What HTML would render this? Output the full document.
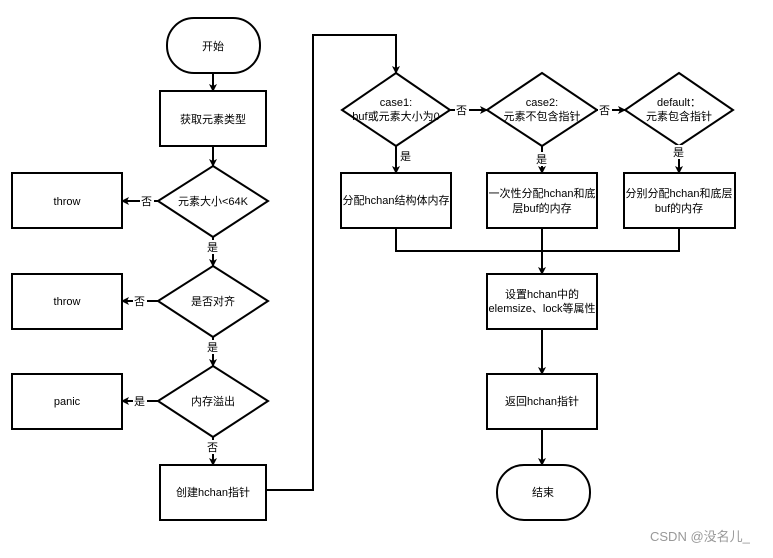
<!DOCTYPE html>
<html><head><meta charset="utf-8"><style>
html,body{margin:0;padding:0;background:#fff;}
svg text{font-family:"Liberation Sans","Noto Sans CJK SC",sans-serif;font-size:11px;fill:#000;}
</style></head><body>
<svg width="773" height="553" viewBox="0 0 773 553" xmlns="http://www.w3.org/2000/svg">
<defs><marker id="a" markerWidth="8" markerHeight="8" refX="7" refY="4" orient="auto" markerUnits="userSpaceOnUse"><path d="M0,0 L8,4 L0,8 L2,4 Z" fill="#000"/></marker></defs>
<g fill="#fff" stroke="#000" stroke-width="2">
<rect x="167" y="18" width="93" height="55" rx="27"/>
<rect x="160" y="91" width="106" height="55"/>
<polygon points="213,166 268,201 213,237 158,201"/>
<rect x="12" y="173" width="110" height="55"/>
<polygon points="213,266 268,301 213,337 158,301"/>
<rect x="12" y="274" width="110" height="55"/>
<polygon points="213,366 268,401 213,437 158,401"/>
<rect x="12" y="374" width="110" height="55"/>
<rect x="160" y="465" width="106" height="55"/>
<polygon points="396,73 450,110 396,146 342,110"/>
<polygon points="542,73 597,110 542,146 487,110"/>
<polygon points="679,73 733,110 679,146 625,110"/>
<rect x="341" y="173" width="110" height="55"/>
<rect x="487" y="173" width="110" height="55"/>
<rect x="624" y="173" width="111" height="55"/>
<rect x="487" y="274" width="110" height="55"/>
<rect x="487" y="374" width="110" height="55"/>
<rect x="497" y="465" width="93" height="55" rx="27"/>
</g>
<g fill="none" stroke="#000" stroke-width="2" marker-end="url(#a)">
<path d="M213,73 V91"/><path d="M213,146 V166"/>
<path d="M158,201 H122"/><path d="M213,237 V266"/>
<path d="M158,301 H122"/><path d="M213,337 V366"/>
<path d="M158,401 H122"/><path d="M213,437 V465"/>
<path d="M266,490 H313 V35 H396 V73"/>
<path d="M450,110 H487"/><path d="M597,110 H625"/>
<path d="M396,146 V173"/><path d="M542,146 V173"/><path d="M679,146 V173"/>
<path d="M542,228 V274"/><path d="M542,329 V374"/><path d="M542,429 V465"/>
</g>
<path d="M396,228 V251 H679 V228" fill="none" stroke="#000" stroke-width="2"/>
<g text-anchor="middle">
<text x="213" y="50">开始</text>
<text x="213" y="123">获取元素类型</text>
<text x="213" y="205">元素大小&lt;64K</text>
<text x="67" y="205">throw</text>
<text x="213" y="305">是否对齐</text>
<text x="67" y="305">throw</text>
<text x="213" y="405">内存溢出</text>
<text x="67" y="405">panic</text>
<text x="213" y="496">创建hchan指针</text>
<text x="396" y="106">case1:</text><text x="396" y="120">buf或元素大小为0</text>
<text x="542" y="106">case2:</text><text x="542" y="120">元素不包含指针</text>
<text x="679" y="106">default：</text><text x="679" y="120">元素包含指针</text>
<text x="396" y="204">分配hchan结构体内存</text>
<text x="542" y="197">一次性分配hchan和底</text><text x="542" y="212">层buf的内存</text>
<text x="679" y="197">分别分配hchan和底层</text><text x="679" y="212">buf的内存</text>
<text x="542" y="298">设置hchan中的</text><text x="542" y="312">elemsize、lock等属性</text>
<text x="542" y="405">返回hchan指针</text>
<text x="543" y="496">结束</text>
</g>
<g style="font-size:11px">
<rect x="140" y="194" width="14" height="14" fill="#fff"/><text x="141" y="205">否</text>
<rect x="206" y="240" width="14" height="14" fill="#fff"/><text x="207" y="251">是</text>
<rect x="133" y="294" width="14" height="14" fill="#fff"/><text x="134" y="305">否</text>
<rect x="206" y="340" width="14" height="14" fill="#fff"/><text x="207" y="351">是</text>
<rect x="133" y="394" width="14" height="14" fill="#fff"/><text x="134" y="405">是</text>
<rect x="206" y="440" width="14" height="14" fill="#fff"/><text x="207" y="451">否</text>
<rect x="455" y="103" width="14" height="14" fill="#fff"/><text x="456" y="114">否</text>
<rect x="598" y="103" width="14" height="14" fill="#fff"/><text x="599" y="114">否</text>
<text x="400" y="160">是</text>
<rect x="535" y="152" width="14" height="14" fill="#fff"/><text x="536" y="163">是</text>
<rect x="672" y="145" width="14" height="14" fill="#fff"/><text x="673" y="156">是</text>
</g>
<text x="650" y="541" style="font-size:13px;fill:#999">CSDN @没名儿_</text>
</svg>
</body></html>
